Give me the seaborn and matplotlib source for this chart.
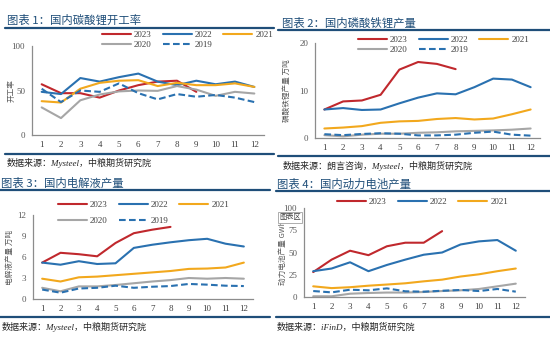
import matplotlib
matplotlib.use("Agg")
import matplotlib.pyplot as plt
from matplotlib.lines import Line2D
import seaborn as sns
import pandas as pd

sns.set_theme(style="white")
plt.rcParams['font.family'] = ['Liberation Serif', 'Noto Sans CJK SC']
plt.rcParams['axes.unicode_minus'] = False

months = list(range(1, 13))
month_labels = [str(m) for m in months]
years = ["2023", "2022", "2021", "2020", "2019"]

# Panel 1: 国内碳酸锂开工率
p1_2023 = [57, 47, 47, 42, 50, 56, 60, 61, 48.5]
p1_2022 = [48.5, 46, 64, 60, 65, 69, 60, 56, 61, 57, 60, 54]
p1_2021 = [38, 36.5, 52, 58.6, 61, 61.6, 55, 58.6, 56, 56, 58, 54]
p1_2020 = [31, 19, 39, 45.5, 49, 50, 49.6, 55, 51, 44, 48.5, 46.6]
p1_2019 = [52, 37, 50, 48.5, 58, 47, 40, 46, 43, 45, 42, 37]

# Panel 2: 国内磷酸铁锂产量 (万吨)
p2_2023 = [6.0, 7.7, 7.9, 9.1, 14.4, 16.0, 15.6, 14.5]
p2_2022 = [6.0, 6.3, 5.9, 6.0, 7.3, 8.5, 9.4, 9.2, 10.7, 12.5, 12.3, 10.7]
p2_2021 = [2.0, 2.2, 2.5, 3.2, 3.5, 3.6, 4.0, 4.2, 3.9, 4.1, 5.0, 6.0]
p2_2020 = [0.6, 0.35, 0.7, 0.9, 0.9, 1.1, 1.2, 1.4, 1.5, 1.6, 1.75, 2.0]
p2_2019 = [0.8, 0.6, 0.85, 1.0, 0.9, 0.55, 0.55, 0.7, 1.1, 1.35, 0.7, 0.5]

# Panel 3: 国内电解液产量 (万吨)
p3_2023 = [5.2, 6.6, 6.4, 6.1, 8.0, 9.4, 9.9, 10.3]
p3_2022 = [5.2, 4.9, 5.4, 5.0, 5.1, 7.3, 7.75, 8.1, 8.4, 8.6, 7.9, 7.5]
p3_2021 = [2.9, 2.5, 3.1, 3.2, 3.4, 3.6, 3.8, 4.0, 4.3, 4.35, 4.5, 5.2]
p3_2020 = [1.6, 1.1, 1.8, 1.8, 2.0, 2.25, 2.5, 2.7, 3.0, 2.9, 3.0, 2.9]
p3_2019 = [1.35, 0.9, 1.5, 1.6, 1.9, 1.6, 1.75, 1.85, 2.15, 2.05, 1.9, 1.85]

# Panel 4: 国内动力电池产量 (GWh)
p4_2023 = [28, 42, 52, 47, 57, 61, 61, 74]
p4_2022 = [29, 32, 39, 29, 36, 42, 47.5, 50, 59, 62.5, 64, 52]
p4_2021 = [12, 10, 11, 12.7, 14, 15.4, 17.6, 19.5, 23, 25.5, 29, 32]
p4_2020 = [0.8, 0.8, 3.7, 4.5, 5, 5, 5.6, 6.7, 7.5, 9, 12, 15]
p4_2019 = [6.7, 5.2, 8.2, 7.5, 9.7, 6.4, 6, 7, 7.9, 6.7, 9, 6]

titles = ["图表 1：国内碳酸锂开工率", "图表 2：国内磷酸铁锂产量",
          "图表 3：国内电解液产量", "图表 4：国内动力电池产量"]
sources = ["数据来源：Mysteel，中粮期货研究院",
           "数据来源：朗言咨询，Mysteel，中粮期货研究院",
           "数据来源：Mysteel，中粮期货研究院",
           "数据来源：iFinD，中粮期货研究院"]
ylabels = ["开工率", "磷酸铁锂产量 万吨", "电解液产量 万吨", "动力电池产量 GWh"]
yticks_list = [[0, 50, 100], [0, 10, 20], [0, 3, 6, 9, 12], [0, 25, 50, 75, 100]]

colors = {"2023": "#C0282D", "2022": "#2A71B0", "2021": "#F2A81D",
          "2020": "#A6A6A6", "2019": "#2A71B0"}
styles = {"2023": "-", "2022": "-", "2021": "-", "2020": "-", "2019": (0, (3.2, 1.6))}

W, H = 550, 348
fig = plt.figure(figsize=(5.5, 3.48), dpi=100)
fig.patch.set_facecolor("white")

def fx(x):
    return x / W

def fy(y):
    return 1 - y / H

def add_ax(x0, y0, x1, y1):
    return fig.add_axes([fx(x0), fy(y1), fx(x1) - fx(x0), (y1 - y0) / H])

panels = [
    dict(box=(32, 46, 264, 135), data=[p1_2023, p1_2022, p1_2021, p1_2020, p1_2019],
         title_xy=(7, 20), rule_top=(5, 274, 28), rule_bot=(5, 274, 154), src_xy=(7, 163),
         leg=(102, 31), leg_years=years, labelsp=0.15, ylab_x=12),
    dict(box=(315, 43, 540, 138), data=[p2_2023, p2_2022, p2_2021, p2_2020, p2_2019],
         title_xy=(282, 23), rule_top=(278, 550, 30), rule_bot=(278, 550, 156), src_xy=(283, 166),
         leg=(358, 36), leg_years=years, labelsp=0.15, ylab_x=287),
    dict(box=(33, 215, 253, 299), data=[p3_2023, p3_2022, p3_2021, p3_2020, p3_2019],
         title_xy=(1, 183), rule_top=(0, 270, 190), rule_bot=(0, 270, 317), src_xy=(2, 327),
         leg=(58, 201), leg_years=years, labelsp=0.85, ylab_x=10),
    dict(box=(304, 208, 525, 297), data=[p4_2023, p4_2022, p4_2021, p4_2020, p4_2019],
         title_xy=(277, 184), rule_top=(276, 550, 191), rule_bot=(276, 550, 317), src_xy=(277, 327),
         leg=(337, 198), leg_years=years[:3], labelsp=0.15, ylab_x=283),
]

title_color = "#1F4E79"
spine_color = "#8C8C8C"

for i, p in enumerate(panels):
    ax = add_ax(*p["box"])
    ax.set_facecolor("none")
    for yr, vals in zip(years, p["data"]):
        df = pd.DataFrame({"month": months[:len(vals)], "value": vals})
        sns.lineplot(data=df, x="month", y="value", ax=ax, color=colors[yr],
                     linewidth=1.5, linestyle=styles[yr], legend=False)
    yt = yticks_list[i]
    ax.set_xlim(0.5, 12.5)
    ax.set_ylim(yt[0], yt[-1])
    ax.set_yticks(yt)
    ax.set_yticklabels([str(v) for v in yt], fontsize=6.5, color="#595959")
    ax.set_xticks(months)
    ax.set_xticklabels(month_labels, fontsize=6.5, color="#404040")
    ax.set_xticks([m + 0.5 for m in range(0, 13)], minor=True)
    ax.tick_params(axis="x", which="major", length=0, pad=4)
    ax.tick_params(axis="x", which="minor", length=3, width=0.8, color=spine_color, direction="out")
    ax.tick_params(axis="y", which="major", length=3, width=0.8, color=spine_color, direction="out", pad=2)
    for s in ["top", "right"]:
        ax.spines[s].set_visible(False)
    for s in ["left", "bottom"]:
        ax.spines[s].set_color(spine_color)
        ax.spines[s].set_linewidth(0.9)
    ax.set_xlabel("")
    ax.set_ylabel("")
    ax.grid(False)
    # y label
    ybox = p["box"]
    fig.text(fx(p["ylab_x"]), fy((ybox[1] + ybox[3]) / 2), ylabels[i], rotation=90,
             ha="center", va="center", fontsize=5.5, color="#595959",
             family=["Noto Sans CJK SC", "DejaVu Sans"])
    # title
    fig.text(fx(p["title_xy"][0]), fy(p["title_xy"][1]), titles[i], ha="left", va="center",
             fontsize=8.2, color=title_color, family=["Noto Sans CJK SC", "DejaVu Sans"])
    x0, x1, yy = p["rule_top"]
    fig.add_artist(Line2D([fx(x0), fx(x1)], [fy(yy), fy(yy)], color=title_color, lw=1.6))
    x0, x1, yy = p["rule_bot"]
    fig.add_artist(Line2D([fx(x0), fx(x1)], [fy(yy), fy(yy)], color=title_color, lw=1.6))
    fig.text(fx(p["src_xy"][0]), fy(p["src_xy"][1]), sources[i], ha="left", va="center",
             fontsize=6.5, style="italic", color="#262626",
             family=["Liberation Serif", "Noto Sans CJK SC"])
    # legend
    lyears = p["leg_years"]
    handles = {yr: Line2D([], [], color=colors[yr], lw=1.5, linestyle=styles[yr]) for yr in lyears}
    if len(lyears) == 5:
        order = ["2023", "2020", "2022", "2019", "2021"]
    else:
        order = lyears
    leg = ax.legend([handles[y] for y in order], order, ncol=3, loc="upper left",
                    bbox_to_anchor=(fx(p["leg"][0]), fy(p["leg"][1])),
                    bbox_transform=fig.transFigure, frameon=False, fontsize=6.5,
                    handlelength=3.2, handletextpad=0.35, columnspacing=1.2,
                    labelspacing=p["labelsp"], borderpad=0, borderaxespad=0)
    for t in leg.get_texts():
        t.set_color("#404040")

# "图表区" tooltip-like box in panel 4
fig.text(fx(279), fy(217.5), "图表区", ha="left", va="center", fontsize=5.2, color="#404040",
         family=["Noto Sans CJK SC", "DejaVu Sans"],
         bbox=dict(boxstyle="square,pad=0.15", fc="white", ec="#A0A0A0", lw=0.6))

fig.savefig("out.png", dpi=100, facecolor="white")
